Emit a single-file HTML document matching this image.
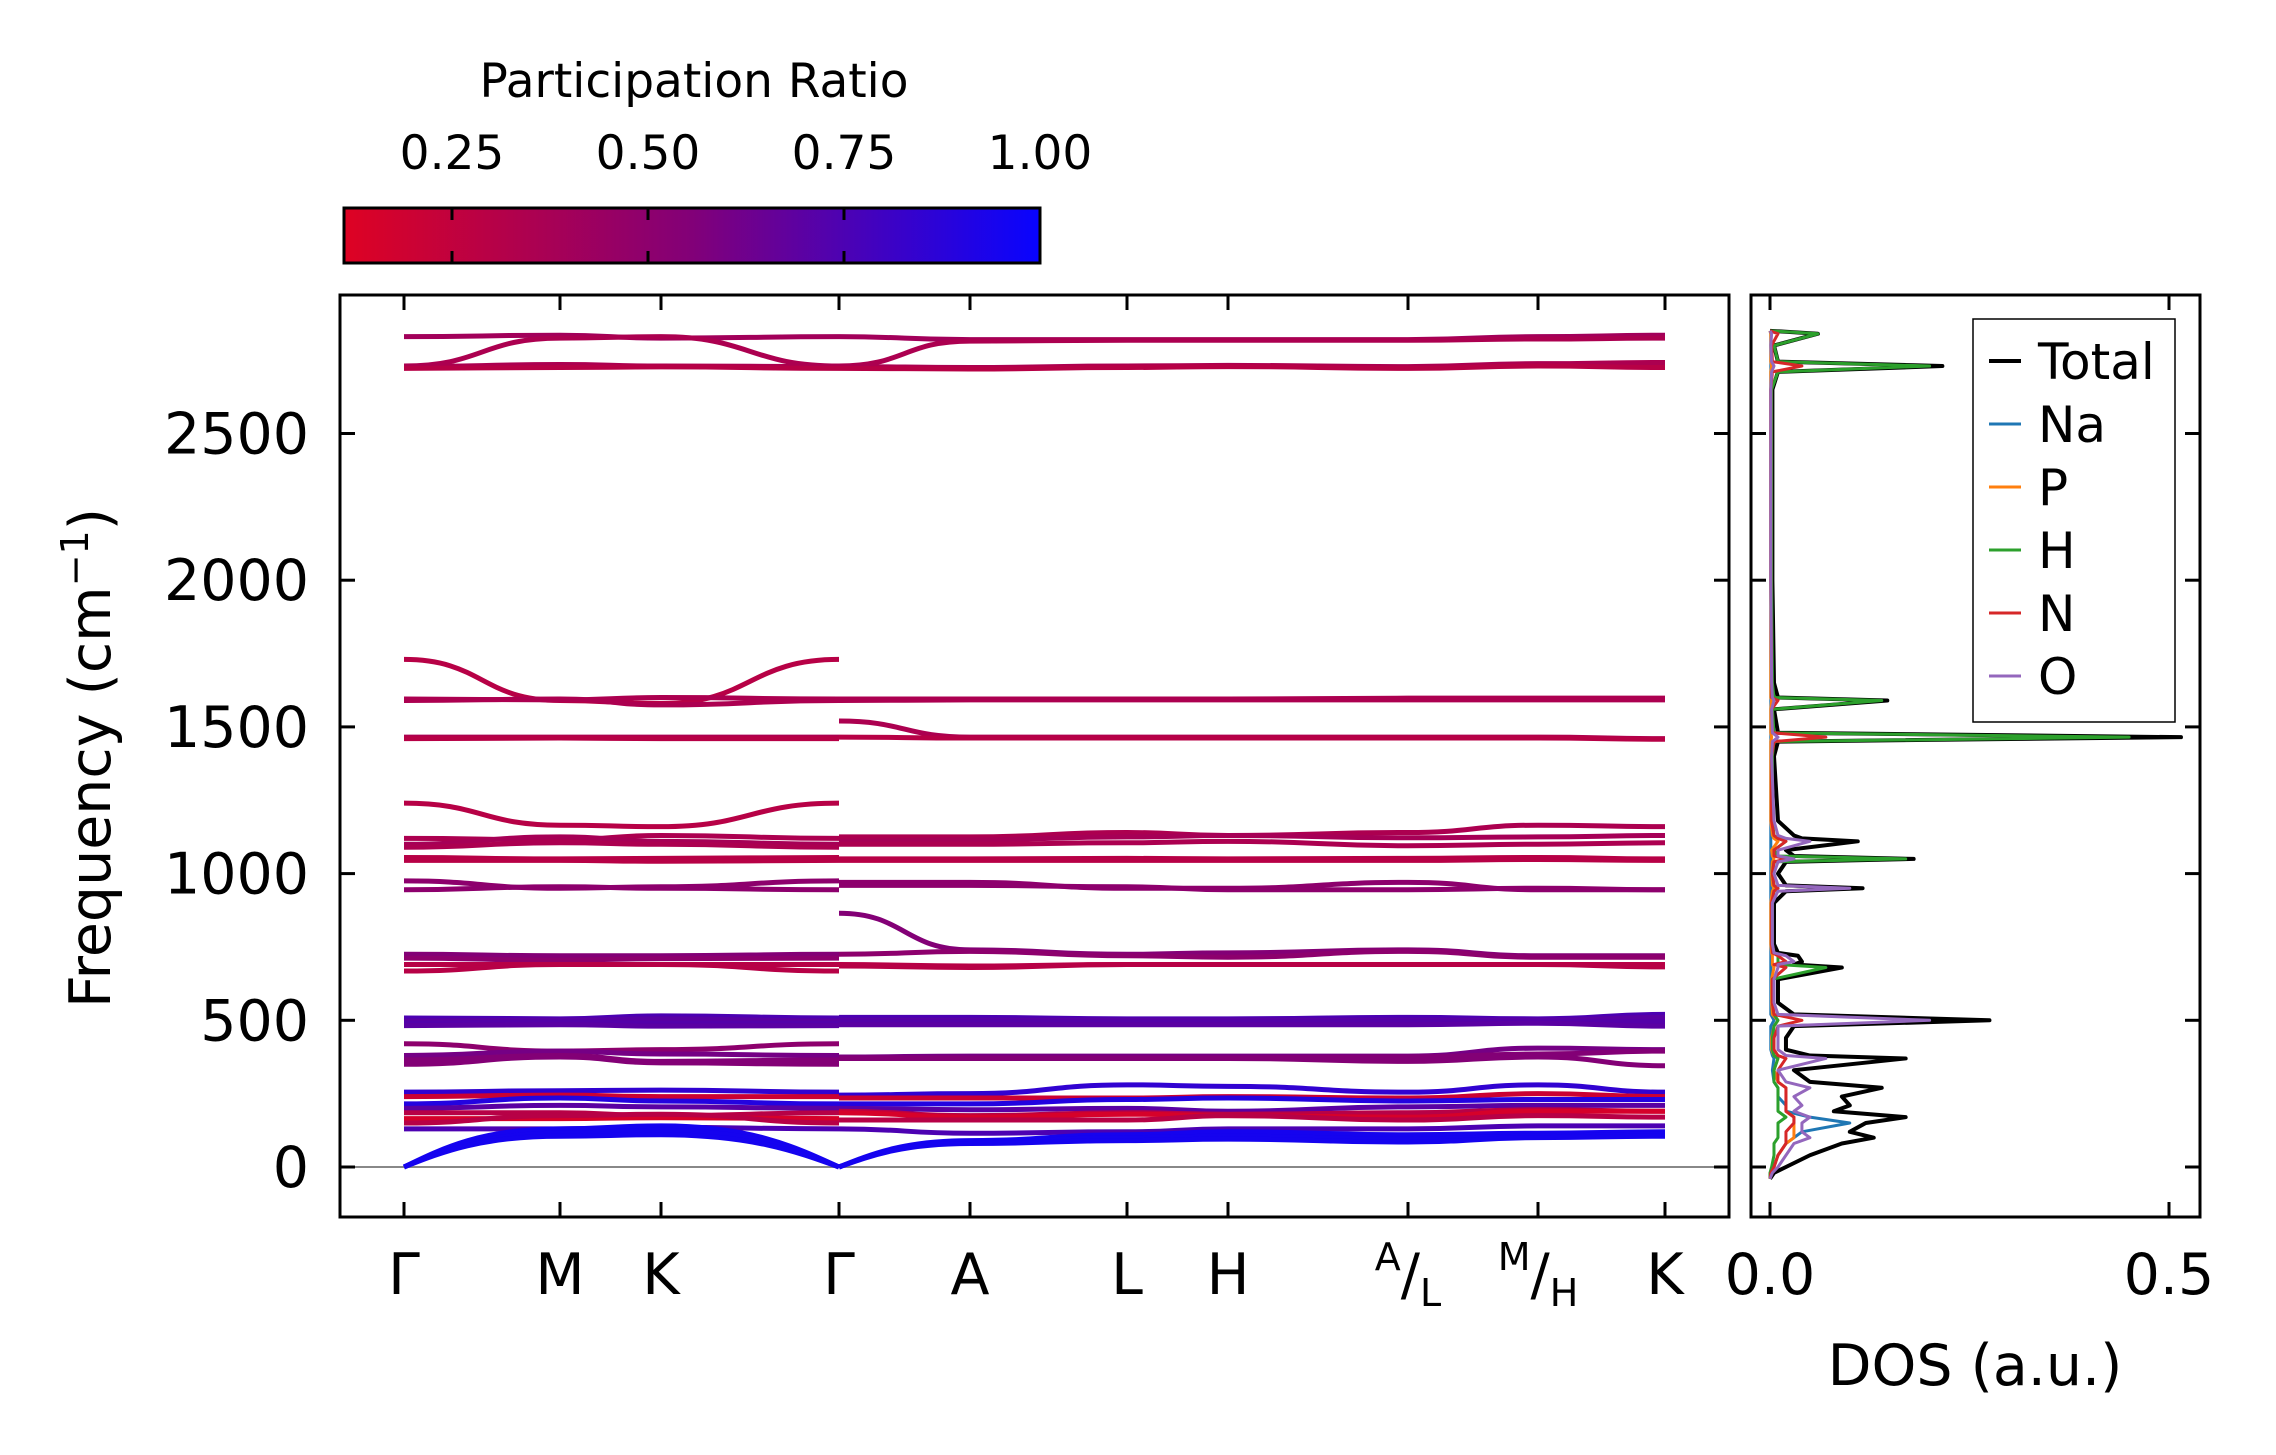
<!DOCTYPE html>
<html><head><meta charset="utf-8"><style>
body{margin:0;background:#fff}
svg{display:block;font-family:"DejaVu Sans","Liberation Sans",sans-serif}
</style></head><body>
<svg id="fig" width="2276" height="1455" viewBox="0 0 2276 1455" xmlns="http://www.w3.org/2000/svg">
<defs>
<linearGradient id="cbg" x1="0" x2="1" y1="0" y2="0">
<stop offset="0" stop-color="rgb(222,2,35)"/><stop offset="0.5" stop-color="rgb(130,0,120)"/><stop offset="1" stop-color="rgb(8,4,255)"/>
</linearGradient>
<clipPath id="clipMain"><rect x="340" y="295" width="1389" height="922"/></clipPath>
<clipPath id="clipDos"><rect x="1751" y="295" width="449" height="922"/></clipPath>
</defs>
<text x="694" y="97" font-size="47" text-anchor="middle">Participation Ratio</text>
<g id="cbar">
<rect x="344" y="208" width="696" height="55" fill="url(#cbg)" stroke="#000" stroke-width="3"/>
</g>
<g id="main">
<rect x="340" y="295" width="1389" height="922" fill="none" stroke="#000" stroke-width="3"/>
<line x1="340" x2="1729" y1="1167" y2="1167" stroke="#888" stroke-width="2"/>
<g id="bands" clip-path="url(#clipMain)"></g>
</g>
<text transform="translate(110,758) rotate(-90)" font-size="57" text-anchor="middle">Frequency (cm<tspan dy="-22" font-size="38">−1</tspan><tspan dy="22">)</tspan></text>
<g id="dos">
<rect x="1751" y="295" width="449" height="922" fill="none" stroke="#000" stroke-width="3"/>
<g id="dosLines" clip-path="url(#clipDos)"></g>
</g>
<text x="1975" y="1385" font-size="57" text-anchor="middle">DOS (a.u.)</text>
<g id="legend">
<rect x="1973" y="319" width="202" height="403" fill="#fff" stroke="#000" stroke-width="1.5"/>
</g>
</svg>
<script>
const NS="http://www.w3.org/2000/svg";
// ---- data ----
const kLabels=["Γ","M","K","Γ","A","L","H","A/L","M/H","K"];
const kPos=[404,560,661,839,970,1127,1228,1408,1538,1665];
const yTicks=[0,500,1000,1500,2000,2500];
const cbTicks=[0.25,0.5,0.75,1.0];
// band frequencies at k nodes; at index 3 a pair [end of seg1, start of seg2]; null = absent
const bandFreqs=[
[2830,2835,2825,[2830,2830],2820,2820,2820,2820,2830,2835],
[2730,2825,2830,[2730,2730],2815,2818,2818,2818,2822,2825],
[2728,2735,2730,[2728,2728],2725,2730,2732,2728,2738,2742],
[2722,2725,2727,[2722,2722],2720,2725,2728,2722,2730,2725],
[1730,1590,1580,[1730,null],null,null,null,null,null,null],
[1595,1592,1600,[1595,1595],1595,1595,1595,1598,1598,1598],
[1590,1595,1575,[1590,1590],1592,1592,1592,1592,1592,1592],
[1465,1465,1465,[1465,1520],1465,1465,1465,1465,1465,1460],
[1460,1462,1460,[1460,1465],1462,1462,1462,1462,1462,1458],
[1240,1165,1160,[1240,null],null,null,null,null,null,null],
[1120,1115,1130,[1120,1125],1125,1140,1130,1140,1165,1160],
[1100,1125,1110,[1100,1110],1115,1125,1130,1122,1125,1130],
[1090,1105,1100,[1090,1100],1100,1105,1110,1095,1100,1105],
[1055,1050,1052,[1055,1050],1050,1052,1050,1052,1055,1050],
[1045,1045,1042,[1045,1045],1045,1045,1045,1045,1048,1045],
[975,950,955,[975,970],970,950,950,970,945,945],
[945,955,950,[945,960],960,955,945,945,950,945],
[725,720,720,[725,865],740,725,730,740,720,720],
[712,705,710,[712,725],735,720,715,735,715,715],
[690,690,690,[690,690],685,690,690,690,690,690],
[668,690,690,[668,685],680,690,690,690,690,682],
[508,505,515,[508,510],510,505,505,510,505,520],
[498,500,505,[498,500],500,500,500,500,500,510],
[490,495,490,[490,495],495,495,495,495,495,495],
[482,485,480,[482,485],485,485,485,485,490,480],
[420,395,400,[420,null],null,null,null,null,null,null],
[380,395,385,[380,375],378,378,378,378,405,400],
[365,380,360,[365,372],372,372,372,375,385,395],
[350,375,355,[350,370],370,370,370,360,375,345],
[255,260,262,[255,245],250,280,275,255,280,255],
[240,245,240,[240,235],235,235,240,235,250,240],
[215,235,225,[215,215],215,230,235,225,230,230],
[200,210,205,[200,200],195,200,190,205,210,210],
[185,185,175,[185,190],175,185,180,185,195,190],
[165,165,168,[165,185],170,180,175,170,190,190],
[150,175,180,[150,160],160,160,175,160,175,170],
[130,130,135,[130,130],115,120,130,130,140,140],
[0,130,140,[0,0],90,110,120,110,115,120],
[0,115,125,[0,0],85,100,105,95,105,112],
[0,105,110,[0,0],80,90,95,85,100,105]
];
const bandPR=[0.4,0.35,0.35,0.3,0.3,0.35,0.35,0.35,0.3,0.3,0.35,0.38,0.35,0.3,0.3,0.5,0.5,0.55,0.5,0.3,0.3,0.75,0.7,0.72,0.7,0.5,0.6,0.55,0.55,0.85,0.2,0.9,0.7,0.3,0.15,0.3,0.75,0.95,0.95,0.95];
// DOS
const dosFreq=[-40,-20,0,40,80,100,120,150,170,190,210,240,270,290,330,370,380,400,440,480,500,520,560,640,680,690,700,720,730,760,900,940,950,960,1000,1040,1050,1060,1080,1110,1120,1130,1180,1400,1450,1465,1480,1560,1590,1600,1650,2000,2650,2710,2730,2745,2800,2840,2850];
const dosTotal=[0,.005,.02,.05,.09,.13,.10,.12,.17,.08,.10,.09,.14,.05,.03,.17,.05,.02,.02,.03,.275,.03,.01,.01,.09,.03,.04,.035,.01,.005,.005,.02,.116,.02,.01,.02,.18,.03,.02,.11,.04,.03,.01,.005,.01,.515,.01,.005,.147,.01,.005,.003,.003,.01,.216,.01,.005,.06,0];
const dosH=[0,0,.002,.005,.005,.01,.01,.01,.02,.01,.01,.01,.01,.005,.005,.01,.005,.003,.003,.005,.01,.005,.003,.003,.07,.01,.01,.01,.005,.003,.003,.005,.01,.005,.003,.005,.17,.01,.005,.02,.01,.005,.003,.003,.005,.45,.005,.003,.14,.005,.003,.002,.002,.01,.20,.01,.005,.06,0];
const dosO=[0,.003,.01,.02,.03,.05,.04,.04,.05,.03,.04,.03,.05,.02,.01,.07,.02,.01,.01,.01,.20,.01,.005,.005,.01,.01,.03,.02,.005,.003,.003,.01,.10,.01,.005,.01,.03,.01,.01,.05,.02,.01,.005,.002,.003,.01,.003,.002,.005,.003,.002,.001,.001,.002,.005,.002,.001,.002,0];
const dosNa=[0,.002,.005,.01,.02,.03,.04,.10,.05,.02,.02,.01,.01,.005,.003,.005,.003,.001,.001,.001,.005,.001,.001,.001,.001,.001,.001,.001,.001,.001,.001,.001,.001,.001,.001,.001,.001,.001,.001,.001,.001,.001,.001,.001,.001,.001,.001,.001,.001,.001,.001,.001,.001,.001,.001,.001,.001,.001,0];
const dosN=[0,.001,.005,.01,.02,.02,.02,.03,.03,.02,.02,.02,.02,.01,.01,.02,.01,.005,.005,.01,.04,.005,.003,.003,.02,.005,.02,.01,.003,.002,.002,.005,.01,.005,.003,.005,.02,.005,.005,.02,.01,.005,.002,.002,.005,.07,.003,.002,.01,.002,.002,.001,.001,.003,.04,.003,.002,.01,0];
const dosP=[0,.001,.005,.01,.02,.03,.03,.03,.03,.02,.02,.02,.02,.01,.005,.01,.005,.002,.002,.005,.01,.003,.002,.002,.005,.003,.003,.003,.002,.001,.001,.003,.005,.003,.002,.003,.005,.003,.002,.01,.005,.003,.001,.001,.001,.002,.001,.001,.002,.001,.001,.001,.001,.001,.002,.001,.001,.001,0];
const legendNames=["Total","Na","P","H","N","O"];
const legendColors=["#000","#1f77b4","#ff7f0e","#2ca02c","#d62728","#9467bd"];
// ---- scales ----
const yF=v=>1167-v*146.7/500;
const xD=v=>1770+v*798;
const cbX=v=>452+(v-0.25)/0.25*196;
function prColor(p){const t=Math.max(0,Math.min(1,(p-0.112)/(1-0.112)));
 let r,g,b; if(t<0.5){const u=t/0.5;r=222+(130-222)*u;g=2-2*u;b=35+(120-35)*u;}else{const u=(t-0.5)/0.5;r=130+(8-130)*u;g=4*u;b=120+(255-120)*u;}
 return `rgb(${r|0},${g|0},${b|0})`;}
function mk(tag,attrs,parent){const e=document.createElementNS(NS,tag);for(const k in attrs)e.setAttribute(k,attrs[k]);parent.appendChild(e);return e;}
const fig=document.getElementById('fig');
// colorbar ticks
const cbar=document.getElementById('cbar');
cbTicks.forEach(v=>{const x=cbX(v);
 if(v<1){let l=mk('line',{x1:x,x2:x,y1:208,y2:220,stroke:'#000','stroke-width':3},cbar);
 
 l=mk('line',{x1:x,x2:x,y1:251,y2:263,stroke:'#000','stroke-width':3},cbar);
 }
 const t=mk('text',{x:x,y:169,'font-size':47,'text-anchor':'middle'},fig);t.textContent=v.toFixed(2);
 });
// main axes ticks
const main=document.getElementById('main');
yTicks.forEach(v=>{const y=yF(v);
 [[340,355],[1714,1729]].forEach(p=>{const l=mk('line',{x1:p[0],x2:p[1],y1:y,y2:y,stroke:'#000','stroke-width':3},main);
 });
 [[1751,1766],[2185,2200]].forEach(p=>{const l=mk('line',{x1:p[0],x2:p[1],y1:y,y2:y,stroke:'#000','stroke-width':3},main);
 });
 const t=mk('text',{x:309,y:y+20,'font-size':57,'text-anchor':'end'},fig);t.textContent=v;
 });
kPos.forEach((x,i)=>{
 [[295,310],[1202,1217]].forEach(p=>{const l=mk('line',{x1:x,x2:x,y1:p[0],y2:p[1],stroke:'#000','stroke-width':3},main);
 });
 const lab=kLabels[i];let t;
 if(lab.includes('/')){const [a,b]=lab.split('/');
  t=mk('text',{x:x,y:1294,'font-size':57,'text-anchor':'middle'},fig);
  t.innerHTML=`<tspan font-size="38" dy="-24">${a}</tspan><tspan dy="24">/</tspan><tspan font-size="38" dy="12">${b}</tspan>`;
 } else {t=mk('text',{x:x,y:1294,'font-size':57,'text-anchor':'middle'},fig);t.textContent=lab;}
 });
// bands
const bandsG=document.getElementById('bands');
const segs=[[0,3],[3,7],[7,8],[8,9]];
bandFreqs.forEach((bf,bi)=>{
 const col=prColor(bandPR[bi]);
 segs.forEach((s,si)=>{
  const vals=[];for(let i=s[0];i<=s[1];i++){let v=bf[i];if(Array.isArray(v))v=(i===s[0]&&si>0)?v[1]:v[0];vals.push(v);}
  if(vals.some(v=>v===null))return;
  let d='';
  for(let j=0;j<vals.length-1;j++){const x0=kPos[s[0]+j],x1=kPos[s[0]+j+1];const y0=yF(vals[j]),y1=yF(vals[j+1]);
   const c=(x1-x0)/2;
   const c0y=vals[j]===0?y0+(y1-y0)*0.5:y0, c1y=vals[j+1]===0?y1+(y0-y1)*0.5:y1;
   const c0x=vals[j]===0?x0+(x1-x0)/4:x0+c, c1x=vals[j+1]===0?x1-(x1-x0)/4:x1-c;
   if(j===0)d+=`M${x0},${y0}`; d+=` C${c0x},${c0y} ${c1x},${c1y} ${x1},${y1}`;}
  const p=mk('path',{d:d,fill:'none',stroke:col,'stroke-width':5},bandsG);
  
 });
});
// DOS ticks
[0,0.5].forEach(v=>{const x=xD(v);
 [[295,310],[1202,1217]].forEach(p=>{const l=mk('line',{x1:x,x2:x,y1:p[0],y2:p[1],stroke:'#000','stroke-width':3},main);
 });
 const t=mk('text',{x:x,y:1294,'font-size':57,'text-anchor':'middle'},fig);t.textContent=v.toFixed(1);
 });
// DOS lines
const dosG=document.getElementById('dosLines');
const series=[dosTotal,dosNa,dosP,dosH,dosN,dosO];
series.forEach((arr,si)=>{
 const pts=dosFreq.map((f,i)=>`${xD(arr[i])},${yF(f)}`).join(' ');
 const pl=mk('polyline',{points:pts,fill:'none',stroke:legendColors[si],'stroke-width':si===0?4:3,'stroke-linejoin':'round'},dosG);
 });
// legend
const leg=document.getElementById('legend');
legendNames.forEach((n,i)=>{const y=361+i*63;
 const l=mk('line',{x1:1989,x2:2021,y1:y,y2:y,stroke:legendColors[i],'stroke-width':i===0?4:3},leg);
 
 const t=mk('text',{x:2038,y:y+18,'font-size':50},leg);t.textContent=n;
 });
</script>
</body></html>
